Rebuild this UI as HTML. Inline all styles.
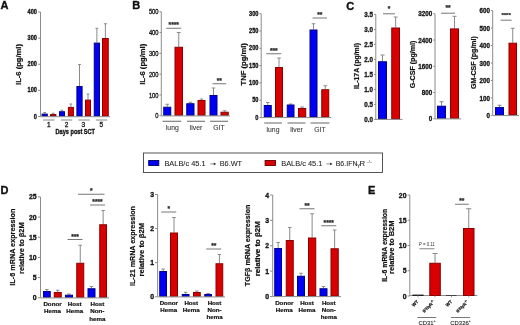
<!DOCTYPE html>
<html><head><meta charset="utf-8"><style>
html,body{margin:0;padding:0;background:#fff;}
body{width:520px;height:325px;overflow:hidden;}
svg{display:block;font-family:"Liberation Sans", sans-serif;will-change:transform;filter:blur(0.3px);}
svg text{stroke:#111;stroke-width:0.2px;}
</style></head><body>
<svg width="520" height="325" viewBox="0 0 520 325" font-family='"Liberation Sans", sans-serif'>
<rect width="520" height="325" fill="#fff"/>
<text x="0.6" y="9.3" font-size="11" font-weight="bold" text-anchor="start" fill="#111" style="stroke-width:0.35px">A</text>
<text x="132.2" y="9.0" font-size="11" font-weight="bold" text-anchor="start" fill="#111" style="stroke-width:0.35px">B</text>
<text x="346.2" y="9.5" font-size="11" font-weight="bold" text-anchor="start" fill="#111" style="stroke-width:0.35px">C</text>
<text x="0.6" y="194.2" font-size="11" font-weight="bold" text-anchor="start" fill="#111" style="stroke-width:0.35px">D</text>
<text x="368.1" y="194.2" font-size="11" font-weight="bold" text-anchor="start" fill="#111" style="stroke-width:0.35px">E</text>
<line x1="40.5" y1="12" x2="40.5" y2="116.5" stroke="#8c8c8c" stroke-width="1"/>
<line x1="38.1" y1="12.0" x2="40.5" y2="12.0" stroke="#8c8c8c" stroke-width="1"/>
<text x="0" y="0" font-size="6.4" font-weight="bold" text-anchor="end" dominant-baseline="central" fill="#111" style="stroke-width:0.3px" transform="translate(36.9,12.0) scale(0.88,1)">400</text>
<line x1="38.1" y1="38.125" x2="40.5" y2="38.125" stroke="#8c8c8c" stroke-width="1"/>
<text x="0" y="0" font-size="6.4" font-weight="bold" text-anchor="end" dominant-baseline="central" fill="#111" style="stroke-width:0.3px" transform="translate(36.9,38.125) scale(0.88,1)">300</text>
<line x1="38.1" y1="64.25" x2="40.5" y2="64.25" stroke="#8c8c8c" stroke-width="1"/>
<text x="0" y="0" font-size="6.4" font-weight="bold" text-anchor="end" dominant-baseline="central" fill="#111" style="stroke-width:0.3px" transform="translate(36.9,64.25) scale(0.88,1)">200</text>
<line x1="38.1" y1="90.375" x2="40.5" y2="90.375" stroke="#8c8c8c" stroke-width="1"/>
<text x="0" y="0" font-size="6.4" font-weight="bold" text-anchor="end" dominant-baseline="central" fill="#111" style="stroke-width:0.3px" transform="translate(36.9,90.375) scale(0.88,1)">100</text>
<line x1="38.1" y1="116.5" x2="40.5" y2="116.5" stroke="#8c8c8c" stroke-width="1"/>
<text x="0" y="0" font-size="6.4" font-weight="bold" text-anchor="end" dominant-baseline="central" fill="#111" style="stroke-width:0.3px" transform="translate(36.9,116.5) scale(0.88,1)">0</text>
<text x="0" y="0" font-size="7.6" font-weight="bold" text-anchor="middle" dominant-baseline="central" fill="#111" transform="translate(18.0,64.5) rotate(-90)">IL-6 (pg/ml)</text>
<line x1="44.7" y1="112.5" x2="44.7" y2="113.6" stroke="#8a8a8a" stroke-width="1"/>
<line x1="43.30500000000001" y1="112.5" x2="46.095" y2="112.5" stroke="#8a8a8a" stroke-width="1"/>
<rect x="42.1" y="114.1" width="5.199999999999996" height="1.9000000000000057" fill="#0000f4" stroke="#000088" stroke-width="1"/>
<line x1="53.2" y1="113.3" x2="53.2" y2="114.1" stroke="#8a8a8a" stroke-width="1"/>
<line x1="51.760000000000005" y1="113.3" x2="54.64" y2="113.3" stroke="#8a8a8a" stroke-width="1"/>
<rect x="50.5" y="114.6" width="5.399999999999999" height="1.4000000000000057" fill="#d80000" stroke="#880000" stroke-width="1"/>
<line x1="62.0" y1="110.3" x2="62.0" y2="111.25" stroke="#8a8a8a" stroke-width="1"/>
<line x1="60.65" y1="110.3" x2="63.35" y2="110.3" stroke="#8a8a8a" stroke-width="1"/>
<rect x="59.5" y="111.75" width="5" height="4.25" fill="#0000f4" stroke="#000088" stroke-width="1"/>
<line x1="70.9" y1="104" x2="70.9" y2="106.9" stroke="#8a8a8a" stroke-width="1"/>
<line x1="69.55000000000001" y1="104" x2="72.25" y2="104" stroke="#8a8a8a" stroke-width="1"/>
<rect x="68.4" y="107.4" width="5.0" height="8.599999999999994" fill="#d80000" stroke="#880000" stroke-width="1"/>
<line x1="79.5" y1="64.5" x2="79.5" y2="86" stroke="#8a8a8a" stroke-width="1"/>
<line x1="78.105" y1="64.5" x2="80.895" y2="64.5" stroke="#8a8a8a" stroke-width="1"/>
<rect x="76.9" y="86.5" width="5.199999999999989" height="29.5" fill="#0000f4" stroke="#000088" stroke-width="1"/>
<line x1="88.0" y1="94" x2="88.0" y2="99.6" stroke="#8a8a8a" stroke-width="1"/>
<line x1="86.65" y1="94" x2="89.35" y2="94" stroke="#8a8a8a" stroke-width="1"/>
<rect x="85.5" y="100.1" width="5" height="15.900000000000006" fill="#d80000" stroke="#880000" stroke-width="1"/>
<line x1="96.875" y1="28.25" x2="96.875" y2="42.6" stroke="#8a8a8a" stroke-width="1"/>
<line x1="95.46875" y1="28.25" x2="98.28125" y2="28.25" stroke="#8a8a8a" stroke-width="1"/>
<rect x="94.25" y="43.1" width="5.25" height="72.9" fill="#0000f4" stroke="#000088" stroke-width="1"/>
<line x1="105.375" y1="23.75" x2="105.375" y2="38" stroke="#8a8a8a" stroke-width="1"/>
<line x1="103.85625" y1="23.75" x2="106.89375" y2="23.75" stroke="#8a8a8a" stroke-width="1"/>
<rect x="102.5" y="38.5" width="5.75" height="77.5" fill="#d80000" stroke="#880000" stroke-width="1"/>
<line x1="43" y1="120" x2="54.5" y2="120" stroke="#888" stroke-width="1"/>
<line x1="60.9" y1="120" x2="72.3" y2="120" stroke="#888" stroke-width="1"/>
<line x1="78.4" y1="120" x2="89.8" y2="120" stroke="#888" stroke-width="1"/>
<line x1="95.9" y1="120" x2="107.3" y2="120" stroke="#888" stroke-width="1"/>
<text x="48.7" y="127" font-size="6.5" font-weight="normal" text-anchor="middle" fill="#222" style="stroke-width:0.3px">1</text>
<text x="66.5" y="127" font-size="6.5" font-weight="normal" text-anchor="middle" fill="#222" style="stroke-width:0.3px">2</text>
<text x="83.3" y="127" font-size="6.5" font-weight="normal" text-anchor="middle" fill="#222" style="stroke-width:0.3px">3</text>
<text x="101.2" y="127" font-size="6.5" font-weight="normal" text-anchor="middle" fill="#222" style="stroke-width:0.3px">5</text>
<text x="75.3" y="134.1" font-size="6.4" font-weight="bold" text-anchor="middle" fill="#111" textLength="39.5" lengthAdjust="spacingAndGlyphs" style="stroke-width:0.3px">Days post SCT</text>
<line x1="161.3" y1="11.75" x2="161.3" y2="115.75" stroke="#8c8c8c" stroke-width="1"/>
<line x1="159.5" y1="11.75" x2="161.3" y2="11.75" stroke="#8c8c8c" stroke-width="1"/>
<text x="0" y="0" font-size="6.4" font-weight="normal" text-anchor="end" dominant-baseline="central" fill="#222" style="stroke-width:0.3px" transform="translate(158.5,11.75) scale(0.9,1)">500</text>
<line x1="159.5" y1="32.55" x2="161.3" y2="32.55" stroke="#8c8c8c" stroke-width="1"/>
<text x="0" y="0" font-size="6.4" font-weight="normal" text-anchor="end" dominant-baseline="central" fill="#222" style="stroke-width:0.3px" transform="translate(158.5,32.55) scale(0.9,1)">400</text>
<line x1="159.5" y1="53.35" x2="161.3" y2="53.35" stroke="#8c8c8c" stroke-width="1"/>
<text x="0" y="0" font-size="6.4" font-weight="normal" text-anchor="end" dominant-baseline="central" fill="#222" style="stroke-width:0.3px" transform="translate(158.5,53.35) scale(0.9,1)">300</text>
<line x1="159.5" y1="74.15" x2="161.3" y2="74.15" stroke="#8c8c8c" stroke-width="1"/>
<text x="0" y="0" font-size="6.4" font-weight="normal" text-anchor="end" dominant-baseline="central" fill="#222" style="stroke-width:0.3px" transform="translate(158.5,74.15) scale(0.9,1)">200</text>
<line x1="159.5" y1="94.95" x2="161.3" y2="94.95" stroke="#8c8c8c" stroke-width="1"/>
<text x="0" y="0" font-size="6.4" font-weight="normal" text-anchor="end" dominant-baseline="central" fill="#222" style="stroke-width:0.3px" transform="translate(158.5,94.95) scale(0.9,1)">100</text>
<line x1="159.5" y1="115.75" x2="161.3" y2="115.75" stroke="#8c8c8c" stroke-width="1"/>
<text x="0" y="0" font-size="6.4" font-weight="normal" text-anchor="end" dominant-baseline="central" fill="#222" style="stroke-width:0.3px" transform="translate(158.5,115.75) scale(0.9,1)">0</text>
<text x="0" y="0" font-size="7.6" font-weight="bold" text-anchor="middle" dominant-baseline="central" fill="#111" transform="translate(142.4,64.3) rotate(-90)">IL-6 (pg/ml)</text>
<line x1="167.25" y1="104.25" x2="167.25" y2="106.75" stroke="#8a8a8a" stroke-width="1"/>
<line x1="165.45" y1="104.25" x2="169.05" y2="104.25" stroke="#8a8a8a" stroke-width="1"/>
<rect x="163.75" y="107.25" width="7.0" height="8.0" fill="#0000f4" stroke="#000088" stroke-width="1"/>
<line x1="178.75" y1="32.5" x2="178.75" y2="46.75" stroke="#8a8a8a" stroke-width="1"/>
<line x1="176.8375" y1="32.5" x2="180.6625" y2="32.5" stroke="#8a8a8a" stroke-width="1"/>
<rect x="175.0" y="47.25" width="7.5" height="68.0" fill="#d80000" stroke="#880000" stroke-width="1"/>
<line x1="190.375" y1="102.3" x2="190.375" y2="103.25" stroke="#8a8a8a" stroke-width="1"/>
<line x1="188.51875" y1="102.3" x2="192.23125" y2="102.3" stroke="#8a8a8a" stroke-width="1"/>
<rect x="186.75" y="103.75" width="7.25" height="11.5" fill="#0000f4" stroke="#000088" stroke-width="1"/>
<line x1="201.5" y1="99" x2="201.5" y2="100" stroke="#8a8a8a" stroke-width="1"/>
<line x1="199.7" y1="99" x2="203.3" y2="99" stroke="#8a8a8a" stroke-width="1"/>
<rect x="198.0" y="100.5" width="7.0" height="14.75" fill="#d80000" stroke="#880000" stroke-width="1"/>
<line x1="213.5" y1="88" x2="213.5" y2="95" stroke="#8a8a8a" stroke-width="1"/>
<line x1="211.7" y1="88" x2="215.3" y2="88" stroke="#8a8a8a" stroke-width="1"/>
<rect x="210.0" y="95.5" width="7.0" height="19.75" fill="#0000f4" stroke="#000088" stroke-width="1"/>
<line x1="224.625" y1="110.8" x2="224.625" y2="111.75" stroke="#8a8a8a" stroke-width="1"/>
<line x1="222.76875" y1="110.8" x2="226.48125" y2="110.8" stroke="#8a8a8a" stroke-width="1"/>
<rect x="221.0" y="112.25" width="7.25" height="3.0" fill="#d80000" stroke="#880000" stroke-width="1"/>
<line x1="166.25" y1="28.25" x2="181.25" y2="28.25" stroke="#666" stroke-width="0.9"/>
<text x="173.75" y="24.6" font-size="6.6" font-weight="bold" text-anchor="middle" fill="#222" dominant-baseline="central" style="stroke:#333;stroke-width:0.25px">****</text>
<line x1="212.5" y1="83.75" x2="226.25" y2="83.75" stroke="#666" stroke-width="0.9"/>
<text x="219.375" y="80.4" font-size="6.6" font-weight="bold" text-anchor="middle" fill="#222" dominant-baseline="central" style="stroke:#333;stroke-width:0.25px">**</text>
<line x1="162.5" y1="121.25" x2="181.25" y2="121.25" stroke="#666" stroke-width="1"/>
<line x1="187" y1="121.25" x2="205" y2="121.25" stroke="#666" stroke-width="1"/>
<line x1="210" y1="121.25" x2="228" y2="121.25" stroke="#666" stroke-width="1"/>
<text x="172.3" y="130" font-size="6.8" font-weight="normal" text-anchor="middle" fill="#333" style="stroke:#555;stroke-width:0.1px">lung</text>
<text x="196" y="130" font-size="6.8" font-weight="normal" text-anchor="middle" fill="#333" style="stroke:#555;stroke-width:0.1px">liver</text>
<text x="219" y="130" font-size="6.8" font-weight="normal" text-anchor="middle" fill="#333" style="stroke:#555;stroke-width:0.1px">GIT</text>
<line x1="261.2" y1="13.75" x2="261.2" y2="117.5" stroke="#8c8c8c" stroke-width="1"/>
<line x1="259.4" y1="13.75" x2="261.2" y2="13.75" stroke="#8c8c8c" stroke-width="1"/>
<text x="0" y="0" font-size="6.4" font-weight="bold" text-anchor="end" dominant-baseline="central" fill="#111" style="stroke-width:0.3px" transform="translate(258.4,13.75) scale(0.88,1)">300</text>
<line x1="259.4" y1="31.041666666666668" x2="261.2" y2="31.041666666666668" stroke="#8c8c8c" stroke-width="1"/>
<text x="0" y="0" font-size="6.4" font-weight="bold" text-anchor="end" dominant-baseline="central" fill="#111" style="stroke-width:0.3px" transform="translate(258.4,31.041666666666668) scale(0.88,1)">250</text>
<line x1="259.4" y1="48.333333333333336" x2="261.2" y2="48.333333333333336" stroke="#8c8c8c" stroke-width="1"/>
<text x="0" y="0" font-size="6.4" font-weight="bold" text-anchor="end" dominant-baseline="central" fill="#111" style="stroke-width:0.3px" transform="translate(258.4,48.333333333333336) scale(0.88,1)">200</text>
<line x1="259.4" y1="65.625" x2="261.2" y2="65.625" stroke="#8c8c8c" stroke-width="1"/>
<text x="0" y="0" font-size="6.4" font-weight="bold" text-anchor="end" dominant-baseline="central" fill="#111" style="stroke-width:0.3px" transform="translate(258.4,65.625) scale(0.88,1)">150</text>
<line x1="259.4" y1="82.91666666666667" x2="261.2" y2="82.91666666666667" stroke="#8c8c8c" stroke-width="1"/>
<text x="0" y="0" font-size="6.4" font-weight="bold" text-anchor="end" dominant-baseline="central" fill="#111" style="stroke-width:0.3px" transform="translate(258.4,82.91666666666667) scale(0.88,1)">100</text>
<line x1="259.4" y1="100.20833333333333" x2="261.2" y2="100.20833333333333" stroke="#8c8c8c" stroke-width="1"/>
<text x="0" y="0" font-size="6.4" font-weight="bold" text-anchor="end" dominant-baseline="central" fill="#111" style="stroke-width:0.3px" transform="translate(258.4,100.20833333333333) scale(0.88,1)">50</text>
<line x1="259.4" y1="117.5" x2="261.2" y2="117.5" stroke="#8c8c8c" stroke-width="1"/>
<text x="0" y="0" font-size="6.4" font-weight="bold" text-anchor="end" dominant-baseline="central" fill="#111" style="stroke-width:0.3px" transform="translate(258.4,117.5) scale(0.88,1)">0</text>
<text x="0" y="0" font-size="7.6" font-weight="bold" text-anchor="middle" dominant-baseline="central" fill="#111" transform="translate(243.0,64.3) rotate(-90)">TNF (pg/ml)</text>
<line x1="267.75" y1="102.5" x2="267.75" y2="105" stroke="#8a8a8a" stroke-width="1"/>
<line x1="265.95" y1="102.5" x2="269.55" y2="102.5" stroke="#8a8a8a" stroke-width="1"/>
<rect x="264.25" y="105.5" width="7.0" height="11.5" fill="#0000f4" stroke="#000088" stroke-width="1"/>
<line x1="279.0" y1="58" x2="279.0" y2="67" stroke="#8a8a8a" stroke-width="1"/>
<line x1="277.2" y1="58" x2="280.8" y2="58" stroke="#8a8a8a" stroke-width="1"/>
<rect x="275.5" y="67.5" width="7" height="49.5" fill="#d80000" stroke="#880000" stroke-width="1"/>
<line x1="290.625" y1="104" x2="290.625" y2="104.5" stroke="#8a8a8a" stroke-width="1"/>
<line x1="288.88125" y1="104" x2="292.36875" y2="104" stroke="#8a8a8a" stroke-width="1"/>
<rect x="287.25" y="105.0" width="6.75" height="12.0" fill="#0000f4" stroke="#000088" stroke-width="1"/>
<line x1="302.125" y1="107" x2="302.125" y2="108" stroke="#8a8a8a" stroke-width="1"/>
<line x1="300.26875" y1="107" x2="303.98125" y2="107" stroke="#8a8a8a" stroke-width="1"/>
<rect x="298.5" y="108.5" width="7.25" height="8.5" fill="#d80000" stroke="#880000" stroke-width="1"/>
<line x1="313.5" y1="23.75" x2="313.5" y2="29.5" stroke="#8a8a8a" stroke-width="1"/>
<line x1="311.7" y1="23.75" x2="315.3" y2="23.75" stroke="#8a8a8a" stroke-width="1"/>
<rect x="310.0" y="30.0" width="7.0" height="87.0" fill="#0000f4" stroke="#000088" stroke-width="1"/>
<line x1="325.25" y1="85.75" x2="325.25" y2="89.25" stroke="#8a8a8a" stroke-width="1"/>
<line x1="323.45" y1="85.75" x2="327.05" y2="85.75" stroke="#8a8a8a" stroke-width="1"/>
<rect x="321.75" y="89.75" width="7.0" height="27.25" fill="#d80000" stroke="#880000" stroke-width="1"/>
<line x1="266.25" y1="53.75" x2="281.25" y2="53.75" stroke="#666" stroke-width="0.9"/>
<text x="273.75" y="50.1" font-size="6.6" font-weight="bold" text-anchor="middle" fill="#222" dominant-baseline="central" style="stroke:#333;stroke-width:0.25px">***</text>
<line x1="312.5" y1="18" x2="327" y2="18" stroke="#666" stroke-width="0.9"/>
<text x="319.75" y="14.6" font-size="6.6" font-weight="bold" text-anchor="middle" fill="#222" dominant-baseline="central" style="stroke:#333;stroke-width:0.25px">**</text>
<line x1="264.25" y1="123" x2="282" y2="123" stroke="#666" stroke-width="1"/>
<line x1="287.5" y1="123" x2="305.5" y2="123" stroke="#666" stroke-width="1"/>
<line x1="310.5" y1="123" x2="329.5" y2="123" stroke="#666" stroke-width="1"/>
<text x="273" y="132" font-size="6.8" font-weight="normal" text-anchor="middle" fill="#333" style="stroke:#555;stroke-width:0.1px">lung</text>
<text x="296.5" y="132" font-size="6.8" font-weight="normal" text-anchor="middle" fill="#333" style="stroke:#555;stroke-width:0.1px">liver</text>
<text x="320" y="132" font-size="6.8" font-weight="normal" text-anchor="middle" fill="#333" style="stroke:#555;stroke-width:0.1px">GIT</text>
<line x1="375.8" y1="14.4" x2="375.8" y2="119.4" stroke="#8c8c8c" stroke-width="1"/>
<line x1="374.0" y1="14.4" x2="375.8" y2="14.4" stroke="#8c8c8c" stroke-width="1"/>
<text x="0" y="0" font-size="6.8" font-weight="bold" text-anchor="end" dominant-baseline="central" fill="#111" style="stroke-width:0.3px" transform="translate(373.0,14.4) scale(0.92,1)">3.5</text>
<line x1="374.0" y1="29.4" x2="375.8" y2="29.4" stroke="#8c8c8c" stroke-width="1"/>
<text x="0" y="0" font-size="6.8" font-weight="bold" text-anchor="end" dominant-baseline="central" fill="#111" style="stroke-width:0.3px" transform="translate(373.0,29.4) scale(0.92,1)">3.0</text>
<line x1="374.0" y1="44.4" x2="375.8" y2="44.4" stroke="#8c8c8c" stroke-width="1"/>
<text x="0" y="0" font-size="6.8" font-weight="bold" text-anchor="end" dominant-baseline="central" fill="#111" style="stroke-width:0.3px" transform="translate(373.0,44.4) scale(0.92,1)">2.5</text>
<line x1="374.0" y1="59.4" x2="375.8" y2="59.4" stroke="#8c8c8c" stroke-width="1"/>
<text x="0" y="0" font-size="6.8" font-weight="bold" text-anchor="end" dominant-baseline="central" fill="#111" style="stroke-width:0.3px" transform="translate(373.0,59.4) scale(0.92,1)">2.0</text>
<line x1="374.0" y1="74.4" x2="375.8" y2="74.4" stroke="#8c8c8c" stroke-width="1"/>
<text x="0" y="0" font-size="6.8" font-weight="bold" text-anchor="end" dominant-baseline="central" fill="#111" style="stroke-width:0.3px" transform="translate(373.0,74.4) scale(0.92,1)">1.5</text>
<line x1="374.0" y1="89.4" x2="375.8" y2="89.4" stroke="#8c8c8c" stroke-width="1"/>
<text x="0" y="0" font-size="6.8" font-weight="bold" text-anchor="end" dominant-baseline="central" fill="#111" style="stroke-width:0.3px" transform="translate(373.0,89.4) scale(0.92,1)">1.0</text>
<line x1="374.0" y1="104.4" x2="375.8" y2="104.4" stroke="#8c8c8c" stroke-width="1"/>
<text x="0" y="0" font-size="6.8" font-weight="bold" text-anchor="end" dominant-baseline="central" fill="#111" style="stroke-width:0.3px" transform="translate(373.0,104.4) scale(0.92,1)">0.5</text>
<line x1="374.0" y1="119.4" x2="375.8" y2="119.4" stroke="#8c8c8c" stroke-width="1"/>
<text x="0" y="0" font-size="6.8" font-weight="bold" text-anchor="end" dominant-baseline="central" fill="#111" style="stroke-width:0.3px" transform="translate(373.0,119.4) scale(0.92,1)">0.0</text>
<text x="0" y="0" font-size="6.95" font-weight="bold" text-anchor="middle" dominant-baseline="central" fill="#111" transform="translate(356.9,66.0) rotate(-90)">IL-17A (pg/ml)</text>
<line x1="382.5" y1="55" x2="382.5" y2="61.25" stroke="#8a8a8a" stroke-width="1"/>
<line x1="380.475" y1="55" x2="384.525" y2="55" stroke="#8a8a8a" stroke-width="1"/>
<rect x="378.5" y="61.75" width="8" height="57.150000000000006" fill="#0000f4" stroke="#000088" stroke-width="1"/>
<line x1="395.625" y1="17" x2="395.625" y2="27.5" stroke="#8a8a8a" stroke-width="1"/>
<line x1="393.65625" y1="17" x2="397.59375" y2="17" stroke="#8a8a8a" stroke-width="1"/>
<rect x="391.75" y="28.0" width="7.75" height="90.9" fill="#d80000" stroke="#880000" stroke-width="1"/>
<line x1="383" y1="13.8" x2="395" y2="13.8" stroke="#666" stroke-width="0.9"/>
<text x="389.0" y="8.3" font-size="6.6" font-weight="bold" text-anchor="middle" fill="#222" dominant-baseline="central" style="stroke:#333;stroke-width:0.25px">*</text>
<line x1="435" y1="13.75" x2="435" y2="118.75" stroke="#8c8c8c" stroke-width="1"/>
<line x1="433.2" y1="13.75" x2="435" y2="13.75" stroke="#8c8c8c" stroke-width="1"/>
<text x="0" y="0" font-size="6.8" font-weight="bold" text-anchor="end" dominant-baseline="central" fill="#111" style="stroke-width:0.3px" transform="translate(432.2,13.75) scale(0.92,1)">3200</text>
<line x1="433.2" y1="40.0" x2="435" y2="40.0" stroke="#8c8c8c" stroke-width="1"/>
<text x="0" y="0" font-size="6.8" font-weight="bold" text-anchor="end" dominant-baseline="central" fill="#111" style="stroke-width:0.3px" transform="translate(432.2,40.0) scale(0.92,1)">2400</text>
<line x1="433.2" y1="66.25" x2="435" y2="66.25" stroke="#8c8c8c" stroke-width="1"/>
<text x="0" y="0" font-size="6.8" font-weight="bold" text-anchor="end" dominant-baseline="central" fill="#111" style="stroke-width:0.3px" transform="translate(432.2,66.25) scale(0.92,1)">1600</text>
<line x1="433.2" y1="92.5" x2="435" y2="92.5" stroke="#8c8c8c" stroke-width="1"/>
<text x="0" y="0" font-size="6.8" font-weight="bold" text-anchor="end" dominant-baseline="central" fill="#111" style="stroke-width:0.3px" transform="translate(432.2,92.5) scale(0.92,1)">800</text>
<line x1="433.2" y1="118.75" x2="435" y2="118.75" stroke="#8c8c8c" stroke-width="1"/>
<text x="0" y="0" font-size="6.8" font-weight="bold" text-anchor="end" dominant-baseline="central" fill="#111" style="stroke-width:0.3px" transform="translate(432.2,118.75) scale(0.92,1)">0</text>
<text x="0" y="0" font-size="7.1" font-weight="bold" text-anchor="middle" dominant-baseline="central" fill="#111" transform="translate(413.1,64.5) rotate(-90)">G-CSF (pg/ml)</text>
<line x1="441.5" y1="101.7" x2="441.5" y2="105.7" stroke="#8a8a8a" stroke-width="1"/>
<line x1="439.475" y1="101.7" x2="443.525" y2="101.7" stroke="#8a8a8a" stroke-width="1"/>
<rect x="437.5" y="106.2" width="8" height="12.049999999999997" fill="#0000f4" stroke="#000088" stroke-width="1"/>
<line x1="454.5" y1="16.3" x2="454.5" y2="28.4" stroke="#8a8a8a" stroke-width="1"/>
<line x1="452.475" y1="16.3" x2="456.525" y2="16.3" stroke="#8a8a8a" stroke-width="1"/>
<rect x="450.5" y="28.9" width="8" height="89.35" fill="#d80000" stroke="#880000" stroke-width="1"/>
<line x1="441" y1="13.2" x2="455" y2="13.2" stroke="#666" stroke-width="0.9"/>
<text x="448.0" y="7.6" font-size="6.6" font-weight="bold" text-anchor="middle" fill="#222" dominant-baseline="central" style="stroke:#333;stroke-width:0.25px">**</text>
<line x1="492.7" y1="10.6" x2="492.7" y2="115.4" stroke="#8c8c8c" stroke-width="1"/>
<line x1="490.9" y1="10.6" x2="492.7" y2="10.6" stroke="#8c8c8c" stroke-width="1"/>
<text x="0" y="0" font-size="6.8" font-weight="bold" text-anchor="end" dominant-baseline="central" fill="#111" style="stroke-width:0.3px" transform="translate(489.9,10.6) scale(0.92,1)">600</text>
<line x1="490.9" y1="28.06666666666667" x2="492.7" y2="28.06666666666667" stroke="#8c8c8c" stroke-width="1"/>
<text x="0" y="0" font-size="6.8" font-weight="bold" text-anchor="end" dominant-baseline="central" fill="#111" style="stroke-width:0.3px" transform="translate(489.9,28.06666666666667) scale(0.92,1)">500</text>
<line x1="490.9" y1="45.53333333333334" x2="492.7" y2="45.53333333333334" stroke="#8c8c8c" stroke-width="1"/>
<text x="0" y="0" font-size="6.8" font-weight="bold" text-anchor="end" dominant-baseline="central" fill="#111" style="stroke-width:0.3px" transform="translate(489.9,45.53333333333334) scale(0.92,1)">400</text>
<line x1="490.9" y1="63.00000000000001" x2="492.7" y2="63.00000000000001" stroke="#8c8c8c" stroke-width="1"/>
<text x="0" y="0" font-size="6.8" font-weight="bold" text-anchor="end" dominant-baseline="central" fill="#111" style="stroke-width:0.3px" transform="translate(489.9,63.00000000000001) scale(0.92,1)">300</text>
<line x1="490.9" y1="80.46666666666667" x2="492.7" y2="80.46666666666667" stroke="#8c8c8c" stroke-width="1"/>
<text x="0" y="0" font-size="6.8" font-weight="bold" text-anchor="end" dominant-baseline="central" fill="#111" style="stroke-width:0.3px" transform="translate(489.9,80.46666666666667) scale(0.92,1)">200</text>
<line x1="490.9" y1="97.93333333333332" x2="492.7" y2="97.93333333333332" stroke="#8c8c8c" stroke-width="1"/>
<text x="0" y="0" font-size="6.8" font-weight="bold" text-anchor="end" dominant-baseline="central" fill="#111" style="stroke-width:0.3px" transform="translate(489.9,97.93333333333332) scale(0.92,1)">100</text>
<line x1="490.9" y1="115.4" x2="492.7" y2="115.4" stroke="#8c8c8c" stroke-width="1"/>
<text x="0" y="0" font-size="6.8" font-weight="bold" text-anchor="end" dominant-baseline="central" fill="#111" style="stroke-width:0.3px" transform="translate(489.9,115.4) scale(0.92,1)">0</text>
<text x="0" y="0" font-size="7.0" font-weight="bold" text-anchor="middle" dominant-baseline="central" fill="#111" transform="translate(473.8,62.6) rotate(-90)">GM-CSF (pg/ml)</text>
<line x1="499.5" y1="105.2" x2="499.5" y2="107.1" stroke="#8a8a8a" stroke-width="1"/>
<line x1="497.475" y1="105.2" x2="501.525" y2="105.2" stroke="#8a8a8a" stroke-width="1"/>
<rect x="495.5" y="107.6" width="8" height="7.300000000000011" fill="#0000f4" stroke="#000088" stroke-width="1"/>
<line x1="512.75" y1="28.3" x2="512.75" y2="42.7" stroke="#8a8a8a" stroke-width="1"/>
<line x1="510.8375" y1="28.3" x2="514.6625" y2="28.3" stroke="#8a8a8a" stroke-width="1"/>
<rect x="509.0" y="43.2" width="7.5" height="71.7" fill="#d80000" stroke="#880000" stroke-width="1"/>
<line x1="500.6" y1="20.2" x2="511.6" y2="20.2" stroke="#666" stroke-width="0.9"/>
<text x="506.1" y="14.8" font-size="6" font-weight="bold" text-anchor="middle" fill="#222" dominant-baseline="central" style="stroke:#333;stroke-width:0.25px">****</text>
<rect x="143.5" y="153" width="239" height="19.5" fill="none" stroke="#444" stroke-width="0.9"/>
<rect x="148.7" y="160.5" width="10.1" height="5" fill="#0000f4" stroke="#000060" stroke-width="0.9"/>
<rect x="265.1" y="160.5" width="10.4" height="5" fill="#d80000" stroke="#600000" stroke-width="0.9"/>
<text x="164.4" y="166.3" font-size="7.9" font-weight="normal" text-anchor="start" fill="#222" textLength="41.2" lengthAdjust="spacingAndGlyphs" style="stroke:#333;stroke-width:0.08px">BALB/c 45.1</text>
<line x1="210.3" y1="163.9" x2="214.39999999999998" y2="163.9" stroke="#777" stroke-width="0.8"/>
<path d="M213.79999999999998,162.5 L216.2,163.9 L213.79999999999998,165.3 Z" fill="#222"/>
<text x="219.7" y="166.3" font-size="7.9" font-weight="normal" text-anchor="start" fill="#222" textLength="22.4" lengthAdjust="spacingAndGlyphs" style="stroke:#333;stroke-width:0.08px">B6.WT</text>
<text x="281.2" y="166.3" font-size="7.9" font-weight="normal" text-anchor="start" fill="#222" textLength="41.2" lengthAdjust="spacingAndGlyphs" style="stroke:#333;stroke-width:0.08px">BALB/c 45.1</text>
<line x1="326.3" y1="163.9" x2="330.7" y2="163.9" stroke="#777" stroke-width="0.8"/>
<path d="M330.1,162.5 L332.5,163.9 L330.1,165.3 Z" fill="#222"/>
<text x="335.7" y="166.3" font-size="7.9" font-weight="normal" text-anchor="start" fill="#222" textLength="21.8" lengthAdjust="spacingAndGlyphs" style="stroke:#333;stroke-width:0.08px">B6.IFN</text>
<text x="357.4" y="167.20000000000002" font-size="5" font-weight="normal" text-anchor="start" fill="#222" textLength="2.2" lengthAdjust="spacingAndGlyphs" style="stroke:#333;stroke-width:0.08px">&#947;</text>
<text x="359.6" y="166.3" font-size="7.9" font-weight="normal" text-anchor="start" fill="#222" textLength="5.6" lengthAdjust="spacingAndGlyphs" style="stroke:#333;stroke-width:0.08px">R</text>
<text x="366.6" y="162.6" font-size="4.2" font-weight="normal" text-anchor="start" fill="#333" textLength="5.2" lengthAdjust="spacingAndGlyphs" style="stroke:none">-/-</text>
<line x1="40.5" y1="196.9" x2="40.5" y2="297.75" stroke="#8c8c8c" stroke-width="1"/>
<line x1="37.9" y1="196.9" x2="40.5" y2="196.9" stroke="#8c8c8c" stroke-width="1"/>
<text x="36.699999999999996" y="196.9" font-size="6.9" font-weight="bold" text-anchor="end" dominant-baseline="central" fill="#111" style="stroke-width:0.3px">25</text>
<line x1="37.9" y1="217.07" x2="40.5" y2="217.07" stroke="#8c8c8c" stroke-width="1"/>
<text x="36.699999999999996" y="217.07" font-size="6.9" font-weight="bold" text-anchor="end" dominant-baseline="central" fill="#111" style="stroke-width:0.3px">20</text>
<line x1="37.9" y1="237.24" x2="40.5" y2="237.24" stroke="#8c8c8c" stroke-width="1"/>
<text x="36.699999999999996" y="237.24" font-size="6.9" font-weight="bold" text-anchor="end" dominant-baseline="central" fill="#111" style="stroke-width:0.3px">15</text>
<line x1="37.9" y1="257.40999999999997" x2="40.5" y2="257.40999999999997" stroke="#8c8c8c" stroke-width="1"/>
<text x="36.699999999999996" y="257.40999999999997" font-size="6.9" font-weight="bold" text-anchor="end" dominant-baseline="central" fill="#111" style="stroke-width:0.3px">10</text>
<line x1="37.9" y1="277.58" x2="40.5" y2="277.58" stroke="#8c8c8c" stroke-width="1"/>
<text x="36.699999999999996" y="277.58" font-size="6.9" font-weight="bold" text-anchor="end" dominant-baseline="central" fill="#111" style="stroke-width:0.3px">5</text>
<line x1="37.9" y1="297.75" x2="40.5" y2="297.75" stroke="#8c8c8c" stroke-width="1"/>
<text x="36.699999999999996" y="297.75" font-size="6.9" font-weight="bold" text-anchor="end" dominant-baseline="central" fill="#111" style="stroke-width:0.3px">0</text>
<text x="0" y="0" font-size="7.3" font-weight="bold" text-anchor="middle" dominant-baseline="central" fill="#111" textLength="77" lengthAdjust="spacingAndGlyphs" transform="translate(12.4,247.15) rotate(-90)">IL-6 mRNA expression</text>
<text x="0" y="0" font-size="7.3" font-weight="bold" text-anchor="middle" dominant-baseline="central" fill="#111" textLength="51.5" lengthAdjust="spacingAndGlyphs" transform="translate(21.2,248.25) rotate(-90)">relative to &#946;2M</text>
<line x1="46.875" y1="289.5" x2="46.875" y2="291" stroke="#8a8a8a" stroke-width="1"/>
<line x1="45.13125" y1="289.5" x2="48.61875" y2="289.5" stroke="#8a8a8a" stroke-width="1"/>
<rect x="43.5" y="291.5" width="6.75" height="5.75" fill="#0000f4" stroke="#000088" stroke-width="1"/>
<line x1="57.75" y1="290.25" x2="57.75" y2="292" stroke="#8a8a8a" stroke-width="1"/>
<line x1="55.95" y1="290.25" x2="59.55" y2="290.25" stroke="#8a8a8a" stroke-width="1"/>
<rect x="54.25" y="292.5" width="7.0" height="4.75" fill="#d80000" stroke="#880000" stroke-width="1"/>
<line x1="69.0" y1="294" x2="69.0" y2="294.75" stroke="#8a8a8a" stroke-width="1"/>
<line x1="67.2" y1="294" x2="70.8" y2="294" stroke="#8a8a8a" stroke-width="1"/>
<rect x="65.5" y="295.25" width="7" height="2.0" fill="#0000f4" stroke="#000088" stroke-width="1"/>
<line x1="80.25" y1="245.25" x2="80.25" y2="262.75" stroke="#8a8a8a" stroke-width="1"/>
<line x1="78.45" y1="245.25" x2="82.05" y2="245.25" stroke="#8a8a8a" stroke-width="1"/>
<rect x="76.75" y="263.25" width="7.0" height="34.0" fill="#d80000" stroke="#880000" stroke-width="1"/>
<line x1="91.5" y1="286.5" x2="91.5" y2="288.25" stroke="#8a8a8a" stroke-width="1"/>
<line x1="89.7" y1="286.5" x2="93.3" y2="286.5" stroke="#8a8a8a" stroke-width="1"/>
<rect x="88.0" y="288.75" width="7.0" height="8.5" fill="#0000f4" stroke="#000088" stroke-width="1"/>
<line x1="103.125" y1="210.5" x2="103.125" y2="224.25" stroke="#8a8a8a" stroke-width="1"/>
<line x1="101.38125" y1="210.5" x2="104.86875" y2="210.5" stroke="#8a8a8a" stroke-width="1"/>
<rect x="99.75" y="224.75" width="6.75" height="72.5" fill="#d80000" stroke="#880000" stroke-width="1"/>
<line x1="78" y1="194.25" x2="104.5" y2="194.25" stroke="#666" stroke-width="0.9"/>
<text x="91.25" y="190.9" font-size="6.6" font-weight="bold" text-anchor="middle" fill="#222" dominant-baseline="central" style="stroke:#333;stroke-width:0.25px">*</text>
<line x1="90" y1="205" x2="105" y2="205" stroke="#666" stroke-width="0.9"/>
<text x="97.5" y="201.6" font-size="6.6" font-weight="bold" text-anchor="middle" fill="#222" dominant-baseline="central" style="stroke:#333;stroke-width:0.25px">****</text>
<line x1="67.5" y1="239.5" x2="82.5" y2="239.5" stroke="#666" stroke-width="0.9"/>
<text x="75.0" y="236.1" font-size="6.6" font-weight="bold" text-anchor="middle" fill="#222" dominant-baseline="central" style="stroke:#333;stroke-width:0.25px">***</text>
<text x="52.5" y="306.4" font-size="6.2" font-weight="bold" text-anchor="middle" fill="#111" >Donor</text>
<text x="52.5" y="313.4" font-size="6.2" font-weight="bold" text-anchor="middle" fill="#111" >Hema</text>
<text x="74.7" y="306.4" font-size="6.2" font-weight="bold" text-anchor="middle" fill="#111" >Host</text>
<text x="74.7" y="313.4" font-size="6.2" font-weight="bold" text-anchor="middle" fill="#111" >Hema</text>
<text x="97.4" y="306.4" font-size="6.2" font-weight="bold" text-anchor="middle" fill="#111" >Host</text>
<text x="97.4" y="313.4" font-size="6.2" font-weight="bold" text-anchor="middle" fill="#111" >Non-</text>
<text x="97.4" y="320.6" font-size="6.2" font-weight="bold" text-anchor="middle" fill="#111" >hema</text>
<line x1="157.6" y1="194.5" x2="157.6" y2="296.75" stroke="#8c8c8c" stroke-width="1"/>
<line x1="155.0" y1="194.5" x2="157.6" y2="194.5" stroke="#8c8c8c" stroke-width="1"/>
<text x="154.0" y="194.5" font-size="6.9" font-weight="bold" text-anchor="end" dominant-baseline="central" fill="#111" style="stroke-width:0.3px">3</text>
<line x1="155.0" y1="228.58333333333334" x2="157.6" y2="228.58333333333334" stroke="#8c8c8c" stroke-width="1"/>
<text x="154.0" y="228.58333333333334" font-size="6.9" font-weight="bold" text-anchor="end" dominant-baseline="central" fill="#111" style="stroke-width:0.3px">2</text>
<line x1="155.0" y1="262.6666666666667" x2="157.6" y2="262.6666666666667" stroke="#8c8c8c" stroke-width="1"/>
<text x="154.0" y="262.6666666666667" font-size="6.9" font-weight="bold" text-anchor="end" dominant-baseline="central" fill="#111" style="stroke-width:0.3px">1</text>
<line x1="155.0" y1="296.75" x2="157.6" y2="296.75" stroke="#8c8c8c" stroke-width="1"/>
<text x="154.0" y="296.75" font-size="6.9" font-weight="bold" text-anchor="end" dominant-baseline="central" fill="#111" style="stroke-width:0.3px">0</text>
<text x="0" y="0" font-size="7.3" font-weight="bold" text-anchor="middle" dominant-baseline="central" fill="#111" textLength="80" lengthAdjust="spacingAndGlyphs" transform="translate(132.2,246) rotate(-90)">IL-21 mRNA expression</text>
<text x="0" y="0" font-size="7.3" font-weight="bold" text-anchor="middle" dominant-baseline="central" fill="#111" textLength="53.5" lengthAdjust="spacingAndGlyphs" transform="translate(141.6,249.75) rotate(-90)">relative to &#946;2M</text>
<line x1="163.125" y1="269" x2="163.125" y2="271" stroke="#8a8a8a" stroke-width="1"/>
<line x1="161.38125" y1="269" x2="164.86875" y2="269" stroke="#8a8a8a" stroke-width="1"/>
<rect x="159.75" y="271.5" width="6.75" height="24.75" fill="#0000f4" stroke="#000088" stroke-width="1"/>
<line x1="174.0" y1="217.5" x2="174.0" y2="232.5" stroke="#8a8a8a" stroke-width="1"/>
<line x1="172.2" y1="217.5" x2="175.8" y2="217.5" stroke="#8a8a8a" stroke-width="1"/>
<rect x="170.5" y="233.0" width="7" height="63.25" fill="#d80000" stroke="#880000" stroke-width="1"/>
<line x1="185.625" y1="292.25" x2="185.625" y2="294" stroke="#8a8a8a" stroke-width="1"/>
<line x1="183.88125" y1="292.25" x2="187.36875" y2="292.25" stroke="#8a8a8a" stroke-width="1"/>
<rect x="182.25" y="294.5" width="6.75" height="1.75" fill="#0000f4" stroke="#000088" stroke-width="1"/>
<line x1="196.875" y1="291" x2="196.875" y2="292" stroke="#8a8a8a" stroke-width="1"/>
<line x1="195.13125" y1="291" x2="198.61875" y2="291" stroke="#8a8a8a" stroke-width="1"/>
<rect x="193.5" y="292.5" width="6.75" height="3.75" fill="#d80000" stroke="#880000" stroke-width="1"/>
<line x1="208.125" y1="293.5" x2="208.125" y2="294" stroke="#8a8a8a" stroke-width="1"/>
<line x1="206.38125" y1="293.5" x2="209.86875" y2="293.5" stroke="#8a8a8a" stroke-width="1"/>
<rect x="204.75" y="294.5" width="6.75" height="1.75" fill="#0000f4" stroke="#000088" stroke-width="1"/>
<line x1="219.375" y1="254.5" x2="219.375" y2="263.25" stroke="#8a8a8a" stroke-width="1"/>
<line x1="217.63125" y1="254.5" x2="221.11875" y2="254.5" stroke="#8a8a8a" stroke-width="1"/>
<rect x="216.0" y="263.75" width="6.75" height="32.5" fill="#d80000" stroke="#880000" stroke-width="1"/>
<line x1="161.25" y1="212" x2="176.25" y2="212" stroke="#666" stroke-width="0.9"/>
<text x="168.75" y="208.6" font-size="6.6" font-weight="bold" text-anchor="middle" fill="#222" dominant-baseline="central" style="stroke:#333;stroke-width:0.25px">*</text>
<line x1="206.25" y1="249" x2="221.25" y2="249" stroke="#666" stroke-width="0.9"/>
<text x="213.75" y="245.6" font-size="6.6" font-weight="bold" text-anchor="middle" fill="#222" dominant-baseline="central" style="stroke:#333;stroke-width:0.25px">**</text>
<text x="168.75" y="305.2" font-size="6.2" font-weight="bold" text-anchor="middle" fill="#111" >Donor</text>
<text x="168.75" y="312.2" font-size="6.2" font-weight="bold" text-anchor="middle" fill="#111" >Hema</text>
<text x="191.25" y="305.2" font-size="6.2" font-weight="bold" text-anchor="middle" fill="#111" >Host</text>
<text x="191.25" y="312.2" font-size="6.2" font-weight="bold" text-anchor="middle" fill="#111" >Hema</text>
<text x="214.5" y="305.2" font-size="6.2" font-weight="bold" text-anchor="middle" fill="#111" >Host</text>
<text x="214.5" y="312.2" font-size="6.2" font-weight="bold" text-anchor="middle" fill="#111" >Non-</text>
<text x="214.5" y="319.4" font-size="6.2" font-weight="bold" text-anchor="middle" fill="#111" >hema</text>
<line x1="272.7" y1="195" x2="272.7" y2="296.5" stroke="#8c8c8c" stroke-width="1"/>
<line x1="270.09999999999997" y1="195.0" x2="272.7" y2="195.0" stroke="#8c8c8c" stroke-width="1"/>
<text x="269.09999999999997" y="195.0" font-size="6.9" font-weight="bold" text-anchor="end" dominant-baseline="central" fill="#111" style="stroke-width:0.3px">4</text>
<line x1="270.09999999999997" y1="220.375" x2="272.7" y2="220.375" stroke="#8c8c8c" stroke-width="1"/>
<text x="269.09999999999997" y="220.375" font-size="6.9" font-weight="bold" text-anchor="end" dominant-baseline="central" fill="#111" style="stroke-width:0.3px">3</text>
<line x1="270.09999999999997" y1="245.75" x2="272.7" y2="245.75" stroke="#8c8c8c" stroke-width="1"/>
<text x="269.09999999999997" y="245.75" font-size="6.9" font-weight="bold" text-anchor="end" dominant-baseline="central" fill="#111" style="stroke-width:0.3px">2</text>
<line x1="270.09999999999997" y1="271.125" x2="272.7" y2="271.125" stroke="#8c8c8c" stroke-width="1"/>
<text x="269.09999999999997" y="271.125" font-size="6.9" font-weight="bold" text-anchor="end" dominant-baseline="central" fill="#111" style="stroke-width:0.3px">1</text>
<line x1="270.09999999999997" y1="296.5" x2="272.7" y2="296.5" stroke="#8c8c8c" stroke-width="1"/>
<text x="269.09999999999997" y="296.5" font-size="6.9" font-weight="bold" text-anchor="end" dominant-baseline="central" fill="#111" style="stroke-width:0.3px">0</text>
<text x="0" y="0" font-size="7.3" font-weight="bold" text-anchor="middle" dominant-baseline="central" fill="#111" textLength="81.5" lengthAdjust="spacingAndGlyphs" transform="translate(247.3,245.4) rotate(-90)">TGF&#946; mRNA expression</text>
<text x="0" y="0" font-size="7.3" font-weight="bold" text-anchor="middle" dominant-baseline="central" fill="#111" textLength="55" lengthAdjust="spacingAndGlyphs" transform="translate(257.0,248.8) rotate(-90)">relative to &#946;2M</text>
<line x1="278.125" y1="242.5" x2="278.125" y2="248" stroke="#8a8a8a" stroke-width="1"/>
<line x1="276.38125" y1="242.5" x2="279.86875" y2="242.5" stroke="#8a8a8a" stroke-width="1"/>
<rect x="274.75" y="248.5" width="6.75" height="47.5" fill="#0000f4" stroke="#000088" stroke-width="1"/>
<line x1="289.75" y1="227.5" x2="289.75" y2="240" stroke="#8a8a8a" stroke-width="1"/>
<line x1="287.95" y1="227.5" x2="291.55" y2="227.5" stroke="#8a8a8a" stroke-width="1"/>
<rect x="286.25" y="240.5" width="7.0" height="55.5" fill="#d80000" stroke="#880000" stroke-width="1"/>
<line x1="301.0" y1="273.25" x2="301.0" y2="275.75" stroke="#8a8a8a" stroke-width="1"/>
<line x1="299.2" y1="273.25" x2="302.8" y2="273.25" stroke="#8a8a8a" stroke-width="1"/>
<rect x="297.5" y="276.25" width="7" height="19.75" fill="#0000f4" stroke="#000088" stroke-width="1"/>
<line x1="312.125" y1="213.75" x2="312.125" y2="237.5" stroke="#8a8a8a" stroke-width="1"/>
<line x1="310.26875" y1="213.75" x2="313.98125" y2="213.75" stroke="#8a8a8a" stroke-width="1"/>
<rect x="308.5" y="238.0" width="7.25" height="58.0" fill="#d80000" stroke="#880000" stroke-width="1"/>
<line x1="323.5" y1="286.5" x2="323.5" y2="288.25" stroke="#8a8a8a" stroke-width="1"/>
<line x1="321.7" y1="286.5" x2="325.3" y2="286.5" stroke="#8a8a8a" stroke-width="1"/>
<rect x="320.0" y="288.75" width="7.0" height="7.25" fill="#0000f4" stroke="#000088" stroke-width="1"/>
<line x1="334.625" y1="230" x2="334.625" y2="248.25" stroke="#8a8a8a" stroke-width="1"/>
<line x1="332.76875" y1="230" x2="336.48125" y2="230" stroke="#8a8a8a" stroke-width="1"/>
<rect x="331.0" y="248.75" width="7.25" height="47.25" fill="#d80000" stroke="#880000" stroke-width="1"/>
<line x1="299.5" y1="208.75" x2="314.5" y2="208.75" stroke="#666" stroke-width="0.9"/>
<text x="307.0" y="205.4" font-size="6.6" font-weight="bold" text-anchor="middle" fill="#222" dominant-baseline="central" style="stroke:#333;stroke-width:0.25px">**</text>
<line x1="321.25" y1="225.75" x2="336.25" y2="225.75" stroke="#666" stroke-width="0.9"/>
<text x="328.75" y="222.4" font-size="6.6" font-weight="bold" text-anchor="middle" fill="#222" dominant-baseline="central" style="stroke:#333;stroke-width:0.25px">****</text>
<text x="284.25" y="305.1" font-size="6.2" font-weight="bold" text-anchor="middle" fill="#111" >Donor</text>
<text x="284.25" y="312.1" font-size="6.2" font-weight="bold" text-anchor="middle" fill="#111" >Hema</text>
<text x="307" y="305.1" font-size="6.2" font-weight="bold" text-anchor="middle" fill="#111" >Host</text>
<text x="307" y="312.1" font-size="6.2" font-weight="bold" text-anchor="middle" fill="#111" >Hema</text>
<text x="328.75" y="305.1" font-size="6.2" font-weight="bold" text-anchor="middle" fill="#111" >Host</text>
<text x="328.75" y="312.1" font-size="6.2" font-weight="bold" text-anchor="middle" fill="#111" >Non-</text>
<text x="328.75" y="319.3" font-size="6.2" font-weight="bold" text-anchor="middle" fill="#111" >hema</text>
<line x1="409.8" y1="195" x2="409.8" y2="296" stroke="#8c8c8c" stroke-width="1"/>
<line x1="407.6" y1="195.0" x2="409.8" y2="195.0" stroke="#8c8c8c" stroke-width="1"/>
<text x="406.5" y="195.0" font-size="6.9" font-weight="bold" text-anchor="end" dominant-baseline="central" fill="#111" style="stroke-width:0.3px">20</text>
<line x1="407.6" y1="220.25" x2="409.8" y2="220.25" stroke="#8c8c8c" stroke-width="1"/>
<text x="406.5" y="220.25" font-size="6.9" font-weight="bold" text-anchor="end" dominant-baseline="central" fill="#111" style="stroke-width:0.3px">15</text>
<line x1="407.6" y1="245.5" x2="409.8" y2="245.5" stroke="#8c8c8c" stroke-width="1"/>
<text x="406.5" y="245.5" font-size="6.9" font-weight="bold" text-anchor="end" dominant-baseline="central" fill="#111" style="stroke-width:0.3px">10</text>
<line x1="407.6" y1="270.75" x2="409.8" y2="270.75" stroke="#8c8c8c" stroke-width="1"/>
<text x="406.5" y="270.75" font-size="6.9" font-weight="bold" text-anchor="end" dominant-baseline="central" fill="#111" style="stroke-width:0.3px">5</text>
<line x1="407.6" y1="296.0" x2="409.8" y2="296.0" stroke="#8c8c8c" stroke-width="1"/>
<text x="406.5" y="296.0" font-size="6.9" font-weight="bold" text-anchor="end" dominant-baseline="central" fill="#111" style="stroke-width:0.3px">0</text>
<text x="0" y="0" font-size="7.0" font-weight="bold" text-anchor="middle" dominant-baseline="central" fill="#111" textLength="73" lengthAdjust="spacingAndGlyphs" transform="translate(384.4,245.3) rotate(-90)">IL-6 mRNA expression</text>
<text x="0" y="0" font-size="7.0" font-weight="bold" text-anchor="middle" dominant-baseline="central" fill="#111" textLength="53.5" lengthAdjust="spacingAndGlyphs" transform="translate(391.6,247.2) rotate(-90)">relative to B2M</text>
<line x1="409.8" y1="295.5" x2="477.3" y2="295.5" stroke="#8c8c8c" stroke-width="1"/>
<rect x="412.4" y="294.6" width="11.2" height="1.3" fill="#151515"/>
<rect x="446" y="295" width="10.5" height="0.8" fill="#303030"/>
<line x1="435.05" y1="253.5" x2="435.05" y2="262.75" stroke="#8a8a8a" stroke-width="1"/>
<line x1="432.46250000000003" y1="253.5" x2="437.6375" y2="253.5" stroke="#8a8a8a" stroke-width="1"/>
<rect x="429.8" y="263.25" width="10.5" height="32.25" fill="#d80000" stroke="#880000" stroke-width="1"/>
<line x1="468.75" y1="208.75" x2="468.75" y2="228" stroke="#8a8a8a" stroke-width="1"/>
<line x1="466.1625" y1="208.75" x2="471.3375" y2="208.75" stroke="#8a8a8a" stroke-width="1"/>
<rect x="463.5" y="228.5" width="10.5" height="67" fill="#d80000" stroke="#880000" stroke-width="1"/>
<line x1="418" y1="295.5" x2="418" y2="297.5" stroke="#8c8c8c" stroke-width="0.8"/>
<line x1="435" y1="295.5" x2="435" y2="297.5" stroke="#8c8c8c" stroke-width="0.8"/>
<line x1="451.5" y1="295.5" x2="451.5" y2="297.5" stroke="#8c8c8c" stroke-width="0.8"/>
<line x1="468.8" y1="295.5" x2="468.8" y2="297.5" stroke="#8c8c8c" stroke-width="0.8"/>
<line x1="419.5" y1="248.75" x2="434.5" y2="248.75" stroke="#777" stroke-width="0.9"/>
<text x="426.8" y="246.0" font-size="4.6" font-weight="normal" text-anchor="middle" fill="#333" textLength="16" lengthAdjust="spacingAndGlyphs" style="stroke:none"><tspan font-style="italic">P</tspan> = 0.11</text>
<line x1="455" y1="204.25" x2="468.75" y2="204.25" stroke="#666" stroke-width="0.9"/>
<text x="461.875" y="200.9" font-size="6.6" font-weight="bold" text-anchor="middle" fill="#222" dominant-baseline="central" style="stroke:#333;stroke-width:0.25px">**</text>
<text x="0" y="0" font-size="4.6" font-weight="bold" text-anchor="middle" dominant-baseline="central" fill="#222" transform="translate(415.2,303.4) rotate(-45)">WT</text>
<text x="0" y="0" font-size="4.6" font-weight="bold" text-anchor="middle" dominant-baseline="central" fill="#222" transform="translate(449,303.4) rotate(-45)">WT</text>
<text x="0" y="0" font-size="4.3" font-weight="bold" text-anchor="middle" dominant-baseline="central" fill="#222" transform="translate(428.6,306.6) rotate(-45)">IFN&#947;R<tspan font-size="3" dy="-1.5">-/-</tspan></text>
<text x="0" y="0" font-size="4.3" font-weight="bold" text-anchor="middle" dominant-baseline="central" fill="#222" transform="translate(462.2,306.6) rotate(-45)">IFN&#947;R<tspan font-size="3" dy="-1.5">-/-</tspan></text>
<line x1="417.4" y1="317.5" x2="436.2" y2="317.5" stroke="#777" stroke-width="1"/>
<line x1="451" y1="317.5" x2="470" y2="317.5" stroke="#777" stroke-width="1"/>
<text x="427" y="324.6" font-size="5.9" font-weight="normal" text-anchor="middle" fill="#111" style="stroke:#444;stroke-width:0.1px">CD31<tspan font-size="3.3" dy="-2.2">+</tspan></text>
<text x="460.5" y="324.6" font-size="5.9" font-weight="normal" text-anchor="middle" fill="#111" style="stroke:#444;stroke-width:0.1px">CD326<tspan font-size="3.3" dy="-2.2">+</tspan></text>
<line x1="40.5" y1="116.7" x2="110" y2="116.7" stroke="#8c8c8c" stroke-width="1"/>
<line x1="161.3" y1="115.9" x2="230" y2="115.9" stroke="#8c8c8c" stroke-width="1"/>
<line x1="261.2" y1="117.6" x2="331" y2="117.6" stroke="#8c8c8c" stroke-width="1"/>
<line x1="375.8" y1="119.4" x2="402.5" y2="119.4" stroke="#8c8c8c" stroke-width="1"/>
<line x1="435" y1="118.9" x2="461" y2="118.9" stroke="#8c8c8c" stroke-width="1"/>
<line x1="492.7" y1="115.6" x2="519" y2="115.6" stroke="#8c8c8c" stroke-width="1"/>
<line x1="40.5" y1="297.9" x2="109" y2="297.9" stroke="#8c8c8c" stroke-width="1"/>
<line x1="157.6" y1="296.9" x2="225" y2="296.9" stroke="#8c8c8c" stroke-width="1"/>
<line x1="272.7" y1="296.6" x2="341" y2="296.6" stroke="#8c8c8c" stroke-width="1"/>
</svg>
</body></html>
